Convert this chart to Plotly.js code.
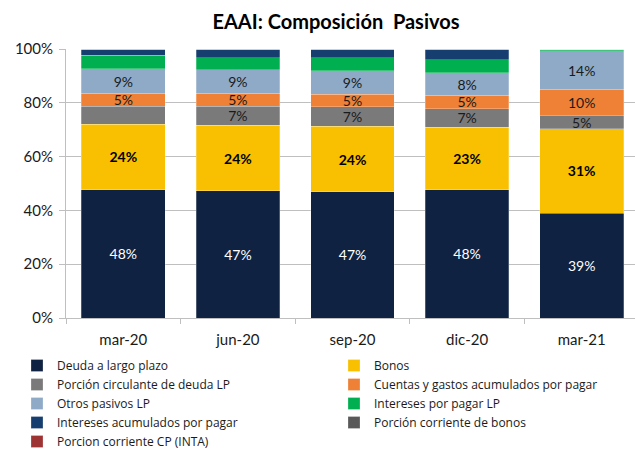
<!DOCTYPE html>
<html>
<head>
<meta charset="utf-8">
<script src="https://cdn.plot.ly/plotly-3.0.1.min.js"></script>
<style>
  html, body { margin: 0; padding: 0; background: #fff; overflow: hidden; }
  #chart { width: 640px; height: 449px; }
</style>
</head>
<body>
<div id="chart"></div>
<script>
// periodos
const periodos = ['mar-20', 'jun-20', 'sep-20', 'dic-20', 'mar-21'];

// composición (% del total)
const deudaLargoPlazo = [47.7, 47.3, 46.9, 47.7, 39.0];
const bonos = [24.4, 24.3, 24.4, 23.3, 31.4];
const porcionCirculanteDeuda = [6.6, 7.2, 7.2, 6.8, 4.8];
const cuentasGastos = [4.9, 4.8, 4.6, 5.0, 9.8];
const otrosPasivos = [9.0, 8.6, 8.9, 8.3, 14.3];
const interesesPorPagar = [5.0, 4.5, 4.7, 4.9, 0.7];
const interesesAcumulados = [2.4, 3.3, 3.3, 4.0, 0.0];
const porcionCorrienteBonos = [0, 0, 0, 0, 0];
const porcionCorrienteINTA = [0, 0, 0, 0, 0];

// etiqueta oculta en mar-20 para la porción circulante
const circulanteVisible = [false, true, true, true, true];

const pct = v => Math.round(v) + '%';

function serie(name, y, color, leyenda, opts) {
  opts = opts || {};
  const t = {
    type: 'bar',
    name: name,
    x: periodos,
    y: y,
    legend: leyenda,
    marker: { color: color, line: { color: 'rgba(255,255,255,0.5)', width: 0.5 } },
    hoverinfo: 'name+y'
  };
  if (opts.labels) {
    t.text = opts.labels;
    t.textposition = 'inside';
    t.insidetextanchor = 'middle';
    t.textangle = 0;
    t.constraintext = 'none';
    t.textfont = {
      family: 'Lato, sans-serif',
      size: 14,
      color: opts.textColor || '#1a1a1a',
      weight: opts.bold ? 'bold' : 'normal'
    };
  } else {
    t.textposition = 'none';
  }
  return t;
}

const traces = [
  serie('Deuda a largo plazo', deudaLargoPlazo, '#0f2241', 'legend',
        { labels: deudaLargoPlazo.map(pct), textColor: '#ffffff' }),
  serie('Bonos', bonos, '#f8c000', 'legend2',
        { labels: bonos.map(pct), bold: true, textColor: '#000000' }),
  serie('Porción circulante de deuda LP', porcionCirculanteDeuda, '#7a7a7a', 'legend',
        { labels: porcionCirculanteDeuda.map((v, i) => circulanteVisible[i] ? pct(v) : '') }),
  serie('Cuentas y gastos acumulados por pagar', cuentasGastos, '#ef8136', 'legend2',
        { labels: cuentasGastos.map(pct) }),
  serie('Otros pasivos LP', otrosPasivos, '#8eaac6', 'legend',
        { labels: otrosPasivos.map(pct) }),
  serie('Intereses por pagar LP', interesesPorPagar, '#00b050', 'legend2'),
  serie('Intereses acumulados por pagar', interesesAcumulados, '#163f6f', 'legend'),
  serie('Porción corriente de bonos', porcionCorrienteBonos, '#595959', 'legend2'),
  serie('Porcion corriente CP (INTA)', porcionCorrienteINTA, '#9e3333', 'legend')
];

const legendFont = { family: '"Open Sans", sans-serif', size: 12, color: '#1a1a1a' };

// área del gráfico: 66 px a 639 px
const plotLeft = 66, plotWidth = 573;

const layout = {
  width: 640,
  height: 449,
  barmode: 'stack',
  bargap: 0.27,
  paper_bgcolor: '#ffffff',
  plot_bgcolor: '#ffffff',
  margin: { l: plotLeft, r: 1, t: 49, b: 131 },
  font: { family: 'Lato, sans-serif', color: '#1a1a1a', size: 14 },
  uniformtext: { mode: 'show', minsize: 14 },
  title: {
    text: '<b>EAAI: Composición  Pasivos</b>',
    font: { family: 'Lato, sans-serif', size: 20, color: '#000000' },
    x: 336 / 640,
    xanchor: 'center',
    xref: 'container',
    y: 1 - 22 / 449,
    yanchor: 'middle'
  },
  xaxis: {
    type: 'category',
    tickson: 'boundaries',
    ticks: 'outside',
    ticklen: 5,
    tickcolor: '#bfbfbf',
    showline: true,
    linecolor: '#bfbfbf',
    linewidth: 1,
    showgrid: false,
    ticklabelstandoff: 8,
    tickfont: { family: 'Lato, sans-serif', size: 15, color: '#1a1a1a' }
  },
  yaxis: {
    range: [0, 100],
    dtick: 20,
    ticksuffix: '%',
    ticks: 'outside',
    ticklen: 6,
    tickcolor: '#bfbfbf',
    showline: true,
    linecolor: '#bfbfbf',
    linewidth: 1,
    gridcolor: '#bfbfbf',
    gridwidth: 1,
    zeroline: false,
    ticklabelstandoff: 3,
    tickfont: { family: 'Lato, sans-serif', size: 15, color: '#1a1a1a' }
  },
  showlegend: true,
  legend: {
    orientation: 'v',
    traceorder: 'normal',
    xref: 'paper',
    yref: 'container',
    x: (17 - plotLeft) / plotWidth,
    xanchor: 'left',
    y: 1 - 351 / 449,
    yanchor: 'top',
    itemwidth: 30,
    font: legendFont,
    bgcolor: 'rgba(0,0,0,0)'
  },
  legend2: {
    orientation: 'v',
    traceorder: 'normal',
    xref: 'paper',
    yref: 'container',
    x: (334 - plotLeft) / plotWidth,
    xanchor: 'left',
    y: 1 - 351 / 449,
    yanchor: 'top',
    itemwidth: 30,
    font: legendFont,
    bgcolor: 'rgba(0,0,0,0)'
  }
};

Plotly.newPlot('chart', traces, layout, { displayModeBar: false, staticPlot: true });
</script>
</body>
</html>
